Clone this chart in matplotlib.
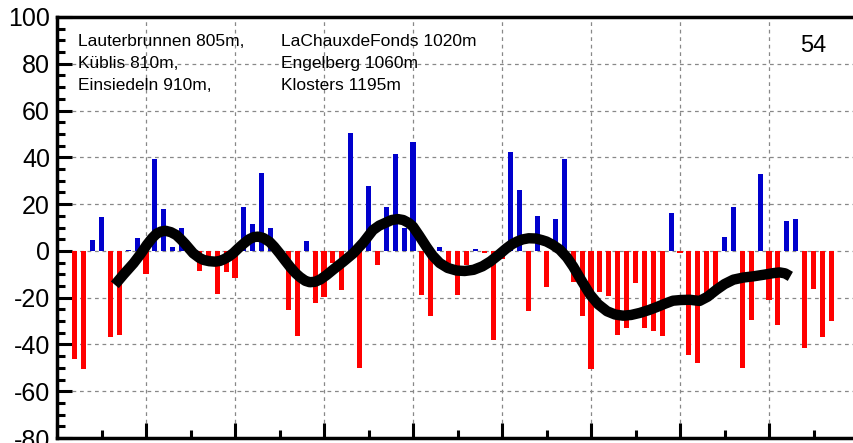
import matplotlib
matplotlib.use("Agg")
import matplotlib.pyplot as plt
from matplotlib.ticker import MultipleLocator

plt.rcParams['font.family'] = ['Liberation Sans', 'DejaVu Sans']
plt.rcParams['axes.unicode_minus'] = False

# bar positions (year index) and anomaly values (%)
positions = list(range(2, 88))
values = [-46.4, -50.6, 4.7, 14.3, -36.9, -36.0, 0.5, 5.7, -9.8, 39.4,
          17.7, 1.8, 9.6, -1.0, -8.5, -3.0, -18.3, -9.1, -11.6, 18.6,
          11.6, 33.3, 9.9, -2.0, -25.4, -36.5, 4.3, -22.3, -19.9, -5.0,
          -16.6, 50.4, -49.9, 27.9, -6.2, 18.9, 41.3, 9.9, 46.4, -18.9,
          -27.9, 1.7, -8.0, -18.7, -6.0, 0.8, -1.0, -38.2, -3.5, 42.1,
          26.2, -25.8, 15.0, -15.5, 13.8, 39.1, -13.3, -27.9, -50.6, -17.6,
          -19.4, -36.0, -33.0, -13.8, -33.0, -34.3, -36.5, 16.3, -1.0, -44.3,
          -47.8, -21.0, -15.0, 6.1, 18.9, -50.2, -29.4, 32.8, -21.0, -31.8,
          12.9, 13.6, -41.4, -16.3, -36.9, -30.1]

# smoothed curve
smooth_x = [6.5, 7.5, 8.6, 9.4, 10.1, 10.7, 11.2, 11.7, 12.2, 12.8, 13.4, 13.9,
            14.4, 15.3, 16.0, 16.5, 17.1, 17.75, 18.3, 18.8, 19.3, 19.8, 20.4,
            21.0, 21.6, 22.1, 22.6, 23.2, 23.9, 24.4, 25.0, 25.6, 26.2, 26.8,
            27.3, 27.9, 28.4, 29.0, 29.6, 30.3, 31.0, 32.2, 33.3, 34.4, 35.5,
            36.2, 36.9, 37.6, 38.3, 38.9, 39.5, 40.0, 40.7, 41.5, 42.2, 43.0,
            43.9, 44.9, 45.8, 46.8, 47.8, 48.7, 49.6, 50.5, 51.1, 51.7, 52.3,
            53.0, 53.8, 54.5, 55.0, 55.7, 56.5, 57.3, 58.0, 58.9, 59.9, 60.8,
            61.8, 62.7, 63.6, 64.5, 65.5, 66.5, 67.4, 68.3, 69.2, 70.1, 71.1,
            72.2, 73.1, 74.1, 75.0, 76.0, 77.1, 78.2, 79.4, 80.5, 81.2, 81.8, 82.4]
smooth_y = [-14.5, -10.0, -5.3, -1.3, 2.6, 5.5, 7.4, 8.3, 8.6, 8.0, 6.8, 5.0,
            3.0, -1.0, -3.0, -3.9, -4.4, -4.6, -4.3, -3.5, -2.4, -1.0, 1.2,
            3.2, 5.0, 5.9, 6.1, 5.5, 3.8, 1.8, -1.0, -4.0, -6.9, -9.5,
            -11.2, -12.8, -13.4, -13.2, -12.2, -10.3, -8.1, -4.5, -1.0, 3.5, 8.9,
            10.8, 12.0, 13.2, 13.6, 13.2, 12.0, 10.4, 6.5, 1.8, -2.0, -5.2,
            -7.3, -8.4, -8.6, -8.1, -6.6, -4.5, -1.8, 1.1, 2.8, 4.0, 4.9,
            5.4, 5.3, 4.6, 4.0, 2.6, 0.5, -2.8, -6.7, -12.5, -18.7, -22.8,
            -25.8, -27.2, -27.7, -27.4, -26.5, -25.3, -24.0, -22.6, -21.3, -21.0, -20.9,
            -21.4, -19.6, -16.6, -14.2, -12.3, -11.4, -10.9, -10.2, -9.5, -9.2, -9.6, -10.9]

stations_left = ["Lauterbrunnen 805m,", "Küblis 810m,", "Einsiedeln 910m,"]
stations_right = ["LaChauxdeFonds 1020m", "Engelberg 1060m", "Klosters 1195m"]
label_number = "54"

W, H = 854, 443
fig = plt.figure(figsize=(W / 100, H / 100), dpi=100)
unit = 8.9  # px per x unit
xmax = 95
left_px, top_px, bottom_px = 57, 17, 438
ax = fig.add_axes([left_px / W, (H - bottom_px) / H, xmax * unit / W, (bottom_px - top_px) / H])

colors = ['#0000cc' if v > 0 else '#ff0000' for v in values]
ax.bar(positions, values, width=0.58, color=colors, zorder=2)
ax.plot(smooth_x, smooth_y, color='black', lw=7.5, solid_capstyle='butt',
        solid_joinstyle='round', zorder=3)

ax.set_xlim(0, xmax)
ax.set_ylim(-80, 100)
ax.yaxis.set_major_locator(MultipleLocator(20))
ax.yaxis.set_minor_locator(MultipleLocator(5))
ax.xaxis.set_major_locator(MultipleLocator(10))
ax.xaxis.set_minor_locator(MultipleLocator(5))
ax.tick_params(axis='both', which='major', direction='in', length=11, width=2.2)
ax.tick_params(axis='both', which='minor', direction='in', length=6, width=2.2)
ax.tick_params(axis='x', labelbottom=False)
ax.tick_params(axis='y', labelsize=18, pad=5)
ax.grid(True, which='major', linestyle=(0, (3, 3)), color='#888888', lw=0.9, zorder=0)
ax.set_axisbelow(True)
for s in ['left', 'top', 'bottom']:
    ax.spines[s].set_linewidth(2.5)
ax.spines['right'].set_visible(False)

for i, t in enumerate(stations_left):
    fig.text(78 / W, 1 - (42 + i * 21.5) / H, t, fontsize=12.5, va='center', ha='left')
for i, t in enumerate(stations_right):
    fig.text(281 / W, 1 - (42 + i * 21.5) / H, t, fontsize=12.5, va='center', ha='left')
fig.text(800 / W, 1 - 46 / H, label_number, fontsize=17, va='center', ha='left')

fig.savefig('out.png', dpi=100)
